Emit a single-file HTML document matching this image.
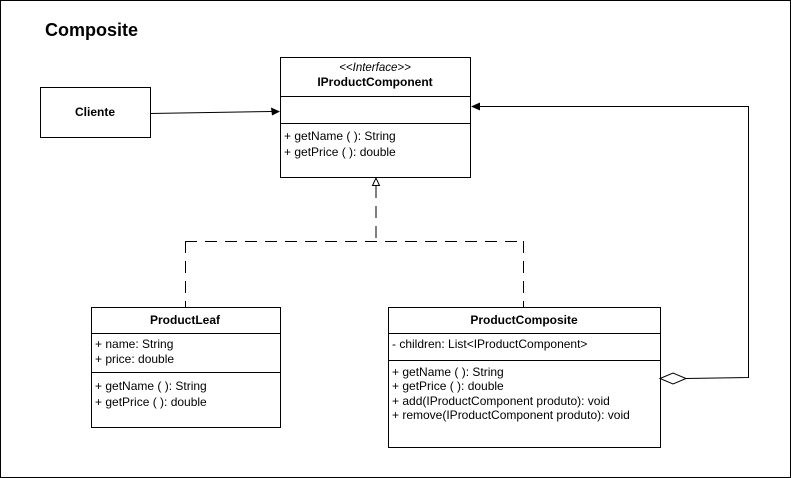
<!DOCTYPE html>
<html><head><style>body{margin:0;background:#fff}svg{display:block}text{font-family:"Liberation Sans",Arial,sans-serif;font-size:12px;fill:#000}</style></head><body>
<svg width="791" height="478" viewBox="0 0 791 478">
<rect x="0.5" y="0.5" width="790" height="477" fill="#fff" stroke="#000"/>
<text x="45" y="36" style="font-size:18px;font-weight:bold">Composite</text>
<g fill="#fff" stroke="#000">
<rect x="40.5" y="87.5" width="110" height="50"/>
<rect x="280.5" y="57.5" width="190" height="120"/>
<line x1="280" y1="96.5" x2="470" y2="96.5"/>
<line x1="280" y1="123.5" x2="470" y2="123.5"/>
<rect x="91.5" y="307.5" width="189" height="120"/>
<line x1="91" y1="333.5" x2="280" y2="333.5"/>
<line x1="91" y1="372.5" x2="280" y2="372.5"/>
<rect x="388.5" y="307.5" width="272" height="140"/>
<line x1="388" y1="333.5" x2="660" y2="333.5"/>
<line x1="388" y1="360.5" x2="660" y2="360.5"/>
</g>
<text x="95" y="116" text-anchor="middle" style="font-weight:bold;font-size:12px">Cliente</text>
<text x="375" y="71" text-anchor="middle" style="font-style:italic;font-size:11.5px">&lt;&lt;Interface&gt;&gt;</text>
<text x="375" y="86" text-anchor="middle" style="font-weight:bold">IProductComponent</text>
<text x="284" y="140">+ getName ( ): String</text>
<text x="284" y="156">+ getPrice ( ): double</text>
<text x="185" y="324" text-anchor="middle" style="font-weight:bold">ProductLeaf</text>
<text x="95" y="348">+ name: String</text>
<text x="95" y="363">+ price: double</text>
<text x="95" y="390">+ getName ( ): String</text>
<text x="95" y="406">+ getPrice ( ): double</text>
<text x="524" y="324" text-anchor="middle" style="font-weight:bold">ProductComposite</text>
<text x="392" y="348">- children: List&lt;IProductComponent&gt;</text>
<text x="392" y="376">+ getName ( ): String</text>
<text x="392" y="390">+ getPrice ( ): double</text>
<text x="392" y="405">+ add(IProductComponent produto): void</text>
<text x="392" y="419">+ remove(IProductComponent produto): void</text>
<g fill="none" stroke="#000">
<line x1="150" y1="113.5" x2="272" y2="111.5"/>
<polyline points="686,378.5 748.5,377.5 748.5,106.5 479,106.5"/>
<polygon points="660,378.5 673,373 686,378.5 673,384" fill="#fff"/>
<polygon points="376,178 372.5,185.5 379.5,185.5" fill="#fff"/>
<g stroke-dasharray="12,8">
<line x1="376" y1="186" x2="376" y2="241.5"/>
<line x1="185" y1="241.5" x2="523" y2="241.5"/>
<line x1="185.5" y1="241" x2="185.5" y2="307"/>
<line x1="523.5" y1="241" x2="523.5" y2="307"/>
</g>
</g>
<polygon points="280,111.5 271,107.5 272,115.5" fill="#000"/>
<polygon points="471,106.5 480,102.5 480,110.5" fill="#000"/>
</svg>
</body></html>
